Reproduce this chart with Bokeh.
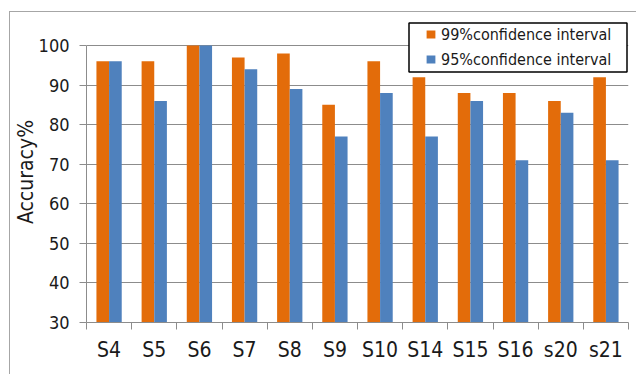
import numpy as np
from bokeh.plotting import figure
from bokeh.models import Range1d, FixedTicker, Legend, LegendItem, BoxAnnotation
from bokeh.embed import file_html
from bokeh.resources import INLINE

subjects = ["S4", "S5", "S6", "S7", "S8", "S9", "S10", "S14", "S15", "S16", "s20", "s21"]
ci99 = [96, 96, 100, 97, 98, 85, 96, 92, 88, 88, 86, 92]
ci95 = [96, 86, 100, 94, 89, 77, 88, 77, 86, 71, 83, 71]
y_ticks = [30, 40, 50, 60, 70, 80, 90, 100]

ORANGE = "#E36C0A"
BLUE = "#4F81BD"
GRID = "#8c8c8c"
TEXT = "#1a1a1a"
FONT = "DejaVu Sans Condensed"

idx = np.arange(len(subjects))

# headroom above 100 keeps the legend inside the frame
p = figure(width=627, height=363, output_backend="svg", toolbar_location=None,
           x_range=Range1d(-0.5, len(subjects) - 0.5), y_range=Range1d(30, 106.07),
           min_border_left=76, min_border_right=9, min_border_top=9, min_border_bottom=53)
p.styles = {"margin-left": "9px", "margin-top": "11px",
            "border-left": "1px solid #a6a6a6", "border-top": "1px solid #a6a6a6"}
p.outline_line_color = None

r99 = p.vbar(x=idx - 0.14, top=ci99, bottom=30, width=0.28, fill_color=ORANGE, line_color=None)
r95 = p.vbar(x=idx + 0.14, top=ci95, bottom=30, width=0.28, fill_color=BLUE, line_color=None)

# x axis: labels at category centres, tick marks on category boundaries
xt = FixedTicker(ticks=list(idx), minor_ticks=list(np.arange(len(subjects) + 1) - 0.5))
p.xaxis.ticker = xt
p.xaxis.major_label_overrides = {int(i): s for i, s in zip(idx, subjects)}
p.xaxis.major_tick_out = 0
p.xaxis.major_tick_in = 0
p.xaxis.minor_tick_out = 7
p.xaxis.minor_tick_in = 0
p.xaxis.minor_tick_line_color = GRID
p.xaxis.axis_line_color = GRID
p.xaxis.major_label_standoff = 8
p.xaxis.major_label_text_font = FONT
p.xaxis.major_label_text_font_size = "21px"
p.xaxis.major_label_text_color = TEXT
p.xgrid.grid_line_color = None

p.yaxis.ticker = FixedTicker(ticks=y_ticks, minor_ticks=[])
p.yaxis.bounds = (30, 100)
p.yaxis.major_tick_out = 7
p.yaxis.major_tick_in = 0
p.yaxis.major_tick_line_color = GRID
p.yaxis.axis_line_color = GRID
p.yaxis.major_label_standoff = 10
p.yaxis.major_label_text_font = FONT
p.yaxis.major_label_text_font_size = "18px"
p.yaxis.major_label_text_color = TEXT
p.yaxis.axis_label = "Accuracy%"
p.yaxis.axis_label_text_font = FONT
p.yaxis.axis_label_text_font_style = "normal"
p.yaxis.axis_label_text_font_size = "21px"
p.yaxis.axis_label_text_color = TEXT
p.yaxis.axis_label_standoff = -2
p.ygrid.ticker = FixedTicker(ticks=y_ticks)
p.ygrid.grid_line_color = GRID
p.ygrid.grid_line_width = 1

# legend frame
p.add_layout(BoxAnnotation(left=322.5, right=540.5, bottom=250.5, top=299.5,
                           left_units="screen", right_units="screen",
                           bottom_units="screen", top_units="screen",
                           fill_color="white", fill_alpha=1,
                           line_color="black", line_alpha=1, line_width=1.5,
                           level="overlay"))

legend = Legend(items=[LegendItem(label="99%confidence interval", renderers=[r99]),
                       LegendItem(label="95%confidence interval", renderers=[r95])],
                location=(339, 253), margin=0, padding=0, spacing=5,
                glyph_width=11, glyph_height=10, label_height=20, label_standoff=5,
                label_text_font=FONT, label_text_font_size="16px", label_text_color=TEXT,
                border_line_color=None, background_fill_alpha=0)
p.add_layout(legend, "center")

open("out.html", "w").write(file_html(p, INLINE))
